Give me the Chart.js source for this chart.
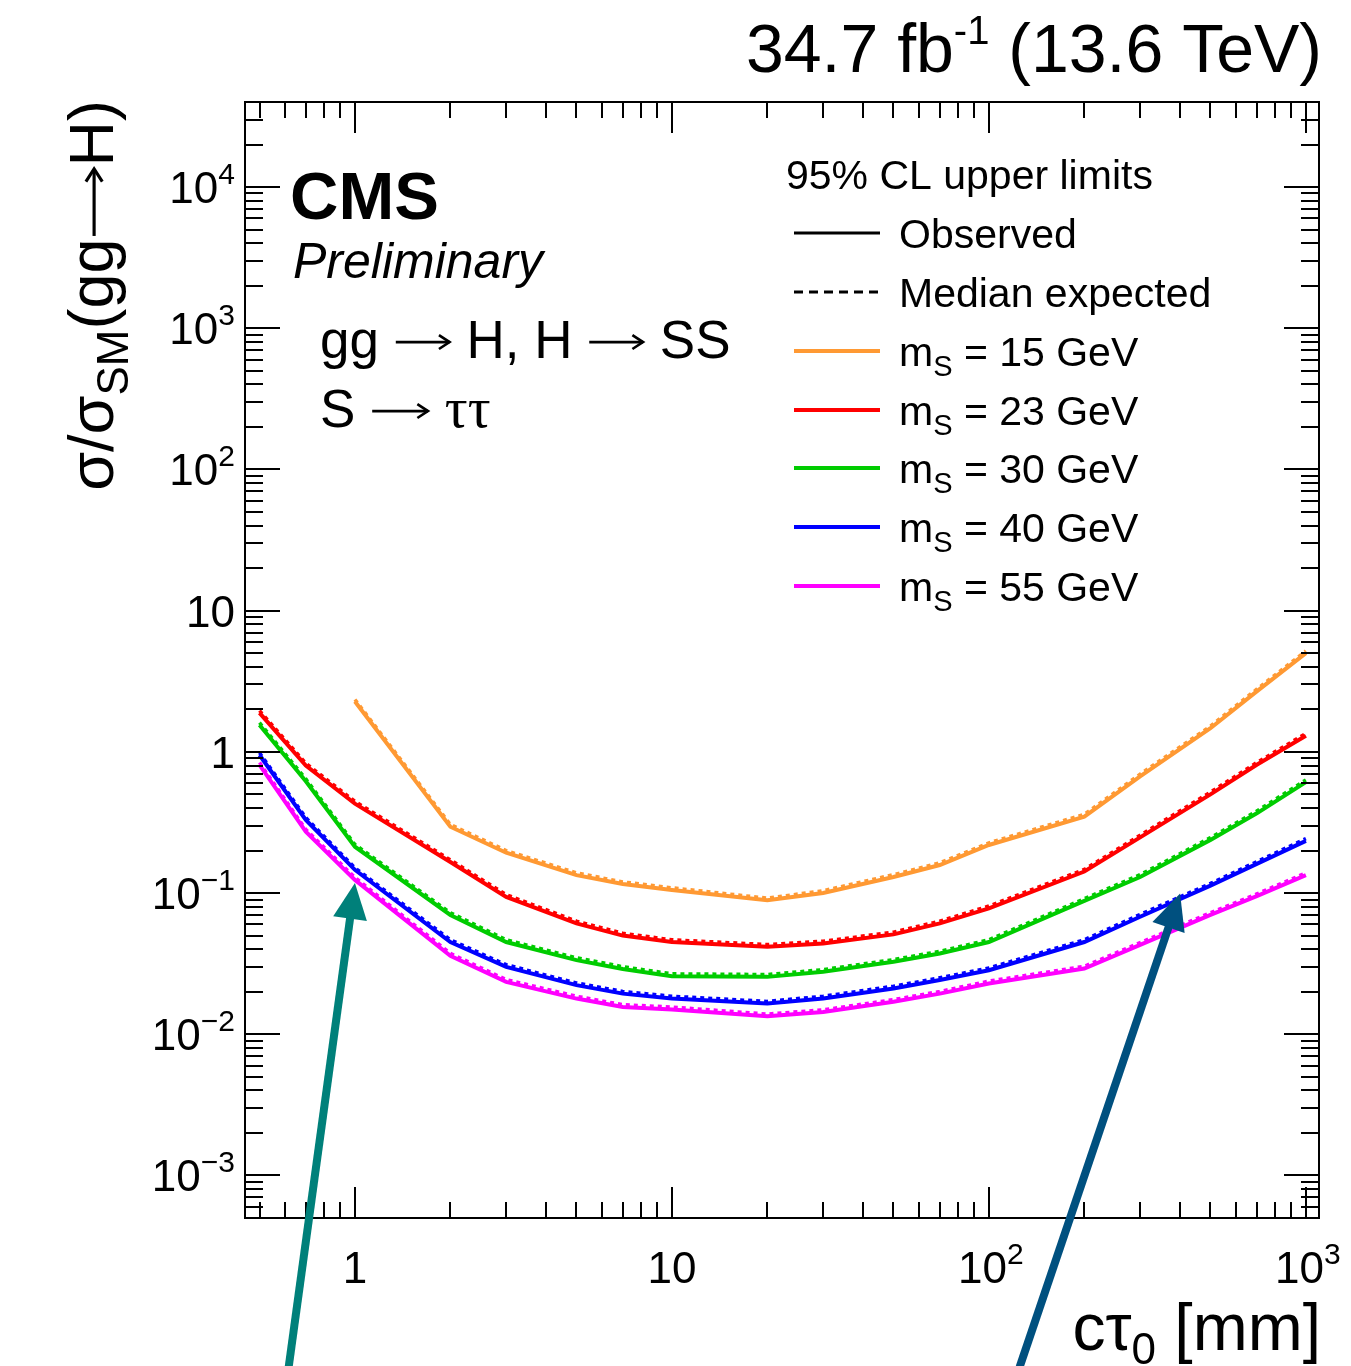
<!DOCTYPE html>
<html><head><meta charset="utf-8">
<script src="https://cdn.jsdelivr.net/npm/chart.js@4/dist/chart.umd.min.js"></script>
<style>html,body{margin:0;padding:0;background:#fff;}canvas{display:block;}</style>
</head><body>
<canvas id="c" width="1351" height="1366"></canvas>
<script>
// ---- data ----
const ctau = [0.5, 0.7, 1, 2, 3, 5, 7, 10, 20, 30, 50, 70, 100, 200, 300, 500, 700, 1000];

const obs15 = [null, null, 2.27, 0.295, 0.193, 0.134, 0.116, 0.105, 0.089, 0.100, 0.130, 0.158, 0.219, 0.348, 0.67, 1.47, 2.68, 5.0];
const exp15 = [null, null, 2.35, 0.306, 0.200, 0.139, 0.120, 0.109, 0.092, 0.104, 0.135, 0.164, 0.227, 0.361, 0.695, 1.52, 2.78, 5.18];

const obs23 = [1.89, 0.80, 0.43, 0.166, 0.094, 0.061, 0.050, 0.045, 0.0416, 0.044, 0.051, 0.061, 0.078, 0.142, 0.248, 0.50, 0.81, 1.30];
const exp23 = [1.96, 0.83, 0.446, 0.172, 0.0975, 0.0633, 0.0519, 0.0467, 0.0432, 0.0456, 0.0529, 0.0633, 0.081, 0.147, 0.257, 0.519, 0.84, 1.35];

const obs30 = [1.55, 0.62, 0.213, 0.070, 0.045, 0.0335, 0.029, 0.0258, 0.0255, 0.0277, 0.0326, 0.0373, 0.045, 0.088, 0.130, 0.238, 0.367, 0.61];
const exp30 = [1.61, 0.643, 0.221, 0.0726, 0.0467, 0.0348, 0.0301, 0.0268, 0.0265, 0.0287, 0.0338, 0.0387, 0.0467, 0.0913, 0.135, 0.247, 0.381, 0.633];

const obs40 = [0.95, 0.33, 0.146, 0.045, 0.030, 0.0223, 0.0194, 0.0179, 0.0165, 0.0179, 0.0211, 0.0242, 0.0284, 0.045, 0.068, 0.113, 0.161, 0.234];
const exp40 = [0.986, 0.342, 0.151, 0.0467, 0.0311, 0.0231, 0.0201, 0.0186, 0.0171, 0.0186, 0.0219, 0.0251, 0.0295, 0.0467, 0.0706, 0.117, 0.167, 0.243];

const obs55 = [0.81, 0.272, 0.124, 0.036, 0.0235, 0.0179, 0.0156, 0.0150, 0.0134, 0.0144, 0.0170, 0.0194, 0.0229, 0.0292, 0.043, 0.070, 0.095, 0.134];
const exp55 = [0.84, 0.282, 0.129, 0.0374, 0.0244, 0.0186, 0.0162, 0.0156, 0.0139, 0.0149, 0.0176, 0.0201, 0.0238, 0.0303, 0.0446, 0.0726, 0.0986, 0.139];

const massLabels = ['15', '23', '30', '40', '55'];
const massColors = ['#ff9933', '#ff0000', '#00cc00', '#0000ff', '#ff00ff'];
const observedSeries = [obs15, obs23, obs30, obs40, obs55];
const expectedSeries = [exp15, exp23, exp30, exp40, exp55];

const yTickValues = [1e-3, 1e-2, 1e-1, 1, 10, 100, 1e3, 1e4];
const yTickLabels = [['10', '\u22123'], ['10', '\u22122'], ['10', '\u22121'], ['1', ''], ['10', ''], ['10', '2'], ['10', '3'], ['10', '4']];
const xTickValues = [1, 10, 100, 1000];
const xTickLabels = [['1', ''], ['10', ''], ['10', '2'], ['10', '3']];

// annotation arrows (data coordinates: tail -> tip)
const arrowTails = [[0.618, 4.4e-5], [125, 4.4e-5]];
const arrowTips = [[1.0, 0.118], [401, 0.0995]];
const arrowColors = ['#00807a', '#00507f'];

// ---- helpers ----
const SANS = '"Liberation Sans", Arial, Helvetica, sans-serif';
function F(size, style) { return (style ? style + ' ' : '') + size + 'px ' + SANS; }
function segW(ctx, s) { if (s.arrow) return s.arrow; ctx.font = s.font; return ctx.measureText(s.t).width; }
function richWidth(ctx, segs) { let w = 0; for (const s of segs) w += segW(ctx, s); return w; }
function drawRich(ctx, segs, x, y, align) {
  const w = richWidth(ctx, segs);
  let cx = align === 'right' ? x - w : (align === 'center' ? x - w / 2 : x);
  for (const s of segs) {
    if (s.arrow) {
      const ay = y - s.size * 0.3, x0 = cx + s.size * 0.04, x1 = cx + s.arrow - s.size * 0.04;
      const hl = s.size * 0.2, hh = s.size * 0.13;
      ctx.save(); ctx.strokeStyle = ctx.fillStyle; ctx.lineWidth = Math.max(2, s.size * 0.05); ctx.lineCap = 'butt';
      ctx.beginPath(); ctx.moveTo(x0, ay); ctx.lineTo(x1, ay); ctx.stroke();
      ctx.beginPath(); ctx.moveTo(x1 - hl, ay - hh); ctx.lineTo(x1, ay); ctx.lineTo(x1 - hl, ay + hh); ctx.stroke();
      ctx.restore();
      cx += s.arrow; continue;
    }
    ctx.font = s.font; ctx.fillText(s.t, cx, y + (s.dy || 0)); cx += ctx.measureText(s.t).width;
  }
}

const datasets = [];
for (let k = 0; k < observedSeries.length; k++) {
  datasets.push({
    data: ctau.map((x, i) => ({ x: x, y: observedSeries[k][i] })),
    borderColor: massColors[k], borderWidth: 4, pointRadius: 0, fill: false, tension: 0, spanGaps: false
  });
  datasets.push({
    data: ctau.map((x, i) => ({ x: x, y: expectedSeries[k][i] })),
    borderColor: massColors[k], borderWidth: 3.5, borderDash: [4, 4], pointRadius: 0, fill: false, tension: 0, spanGaps: false
  });
}

const decor = {
  id: 'decor',
  afterDraw(chart) {
    const ctx = chart.ctx, a = chart.chartArea, xs = chart.scales.x, ys = chart.scales.y;
    ctx.save();
    ctx.fillStyle = '#000'; ctx.strokeStyle = '#000'; ctx.textBaseline = 'alphabetic';
    // frame
    ctx.lineWidth = 2;
    ctx.strokeRect(a.left, a.top, a.right - a.left, a.bottom - a.top);
    // x ticks
    for (let d = -1; d <= 3; d++) for (let m = 1; m <= 9; m++) {
      const v = m * Math.pow(10, d);
      if (v < xs.min || v > xs.max) continue;
      const p = Math.round(xs.getPixelForValue(v));
      const len = m === 1 ? 31 : 16;
      ctx.beginPath(); ctx.moveTo(p, a.bottom); ctx.lineTo(p, a.bottom - len);
      ctx.moveTo(p, a.top); ctx.lineTo(p, a.top + len); ctx.stroke();
    }
    // y ticks
    for (let d = -4; d <= 4; d++) for (let m = 1; m <= 9; m++) {
      const v = m * Math.pow(10, d);
      if (v < ys.min || v > ys.max) continue;
      const p = Math.round(ys.getPixelForValue(v));
      const len = m === 1 ? 35 : 18;
      ctx.beginPath(); ctx.moveTo(a.left, p); ctx.lineTo(a.left + len, p);
      ctx.moveTo(a.right, p); ctx.lineTo(a.right - len, p); ctx.stroke();
    }
    // tick labels
    yTickValues.forEach((v, i) => {
      const p = ys.getPixelForValue(v);
      const segs = [{ t: yTickLabels[i][0], font: F(44) }];
      if (yTickLabels[i][1]) segs.push({ t: yTickLabels[i][1], font: F(30), dy: -19 });
      drawRich(ctx, segs, 235, p + 16, 'right');
    });
    xTickValues.forEach((v, i) => {
      const p = xs.getPixelForValue(v);
      const segs = [{ t: xTickLabels[i][0], font: F(44) }];
      if (xTickLabels[i][1]) segs.push({ t: xTickLabels[i][1], font: F(30), dy: -19 });
      drawRich(ctx, segs, p + (xTickLabels[i][1] ? 2 : 0), 1283, 'center');
    });
    // axis titles
    drawRich(ctx, [{ t: 'c\u03c4', font: F(66) }, { t: '0', font: F(44), dy: 14 }, { t: ' [mm]', font: F(66) }], 1321, 1350, 'right');
    ctx.save();
    ctx.translate(113, 100); ctx.rotate(-Math.PI / 2);
    drawRich(ctx, [{ t: '\u03c3/\u03c3', font: F(63) }, { t: 'SM', font: F(44), dy: 15 }, { t: '(gg', font: F(63) },
      { arrow: 72, size: 63 }, { t: 'H)', font: F(63) }], 0, 0, 'right');
    ctx.restore();
    // header
    drawRich(ctx, [{ t: '34.7 fb', font: F(68) }, { t: '-1', font: F(40), dy: -28 }, { t: ' (13.6 TeV)', font: F(68) }], 1322, 72, 'right');
    // CMS labels
    ctx.font = F(67, 'bold'); ctx.fillText('CMS', 290, 219);
    ctx.font = F(50, 'italic'); ctx.fillText('Preliminary', 293, 278);
    drawRich(ctx, [{ t: 'gg ', font: F(53) }, { arrow: 58, size: 53 }, { t: ' H, H ', font: F(53) }, { arrow: 58, size: 53 }, { t: ' SS', font: F(53) }], 320, 358, 'left');
    drawRich(ctx, [{ t: 'S ', font: F(53) }, { arrow: 60, size: 53 }, { t: ' ', font: F(53) }, { t: '\u03c4\u03c4', font: '57px "Liberation Serif", "DejaVu Serif", serif' }], 320, 427, 'left');
    // legend
    ctx.font = F(41); ctx.fillText('95% CL upper limits', 786, 189);
    const rows = [233, 292, 351, 410, 468, 527, 586];
    ctx.lineWidth = 3; ctx.strokeStyle = '#000';
    ctx.beginPath(); ctx.moveTo(794, rows[0]); ctx.lineTo(880, rows[0]); ctx.stroke();
    ctx.setLineDash([9, 6]);
    ctx.beginPath(); ctx.moveTo(794, rows[1]); ctx.lineTo(880, rows[1]); ctx.stroke();
    ctx.setLineDash([]);
    ctx.font = F(41);
    ctx.fillText('Observed', 899, rows[0] + 15);
    ctx.fillText('Median expected', 899, rows[1] + 15);
    for (let k = 0; k < massLabels.length; k++) {
      const r = rows[k + 2];
      ctx.strokeStyle = massColors[k]; ctx.lineWidth = 4;
      ctx.beginPath(); ctx.moveTo(794, r); ctx.lineTo(880, r); ctx.stroke();
      drawRich(ctx, [{ t: 'm', font: F(41) }, { t: 'S', font: F(29), dy: 10 }, { t: ' = ' + massLabels[k] + ' GeV', font: F(41) }], 899, r + 15, 'left');
    }
    // arrows
    for (let k = 0; k < arrowTips.length; k++) {
      const x0 = xs.getPixelForValue(arrowTails[k][0]), y0 = ys.getPixelForValue(arrowTails[k][1]);
      const x1 = xs.getPixelForValue(arrowTips[k][0]), y1 = ys.getPixelForValue(arrowTips[k][1]);
      const L = Math.hypot(x1 - x0, y1 - y0), ux = (x1 - x0) / L, uy = (y1 - y0) / L;
      const head = 36, half = 17;
      const bx = x1 - ux * head, by = y1 - uy * head;
      ctx.strokeStyle = arrowColors[k]; ctx.fillStyle = arrowColors[k]; ctx.lineWidth = 8;
      ctx.beginPath(); ctx.moveTo(x0, y0); ctx.lineTo(bx + ux * 2, by + uy * 2); ctx.stroke();
      ctx.beginPath(); ctx.moveTo(x1, y1);
      ctx.lineTo(bx - uy * half, by + ux * half); ctx.lineTo(bx + uy * half, by - ux * half); ctx.closePath(); ctx.fill();
    }
    ctx.restore();
  }
};

new Chart(document.getElementById('c'), {
  type: 'line',
  data: { datasets: datasets },
  options: {
    responsive: false, animation: false,
    layout: { padding: { left: 245, right: 32, top: 102, bottom: 148 } },
    plugins: { legend: { display: false }, tooltip: { enabled: false } },
    scales: {
      x: { type: 'logarithmic', min: 0.45, max: 1100, display: false },
      y: { type: 'logarithmic', min: 5e-4, max: 4e4, display: false }
    }
  },
  plugins: [decor]
});
</script>
</body></html>
